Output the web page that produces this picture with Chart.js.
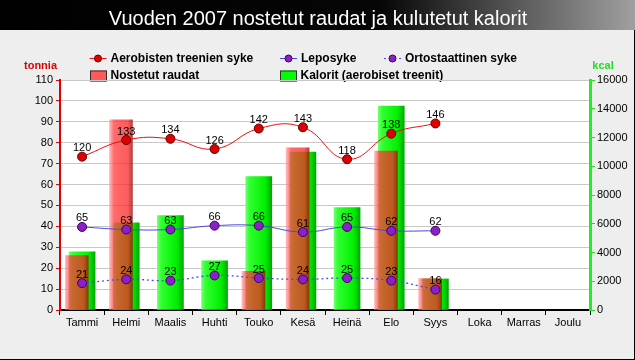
<!DOCTYPE html>
<html><head><meta charset="utf-8">
<script src="https://cdn.jsdelivr.net/npm/chart.js@4.4.1/dist/chart.umd.min.js"></script>
<style>html,body{margin:0;padding:0;background:#eeeeee}canvas{display:block}</style>
</head><body>
<canvas id="c" width="635" height="360" style="width:635px;height:360px"></canvas>
<script>
// ---- data ----
const categories = ['Tammi','Helmi','Maalis','Huhti','Touko','Kesä','Heinä','Elo','Syys','Loka','Marras','Joulu'];
const nostetutRaudat = [26, 91, 0, 0, 18.5, 77.5, 0, 76, 15, null, null, null];      // tonnia
const kalorit = [4050, 6070, 6560, 3420, 9280, 10980, 7120, 14190, 2160, null, null, null]; // kcal
const aerobinenSyke = [120, 133, 134, 126, 142, 143, 118, 138, 146, null, null, null];
const leposyke = [65, 63, 63, 66, 66, 61, 65, 62, 62, null, null, null];
const ortostaattinen = [21, 24, 23, 27, 25, 24, 25, 23, 16, null, null, null];
const tonniaAxis = {min: 0, max: 110, step: 10};
const kcalAxis = {min: 0, max: 16000, step: 2000};
const sykeAxis = {min: 0, max: 180};
const titleText = 'Vuoden 2007 nostetut raudat ja kulutetut kalorit';
const leftTitle = 'tonnia';
const rightTitle = 'kcal';

// ---- styles ----
const RED_SHIFT = -0.12;
const FONT = '"Liberation Sans", Arial, sans-serif';
Chart.defaults.font.family = FONT;
Chart.defaults.color = '#000';

function redFill(ctx) {
  const ch = ctx.chart;
  if (!ch.chartArea || !ch.scales.x2 || !ctx.raw) return 'rgba(255,40,40,0.75)';
  const cx = ch.scales.x2.getPixelForValue(ctx.raw.x);
  const g = ch.ctx.createLinearGradient(cx - 11.5, 0, cx + 11.5, 0);
  g.addColorStop(0, 'rgba(255,160,160,0.72)');
  g.addColorStop(0.2, 'rgba(255,50,50,0.72)');
  g.addColorStop(0.8, 'rgba(250,35,35,0.74)');
  g.addColorStop(1, 'rgba(160,15,15,0.8)');
  return g;
}
function greenFill(ctx) {
  const ch = ctx.chart;
  if (!ch.chartArea || !ch.scales.x) return '#20ff20';
  const cx = ch.scales.x.getPixelForValue(ctx.dataIndex);
  const g = ch.ctx.createLinearGradient(cx - 13, 0, cx + 13, 0);
  g.addColorStop(0, '#70ff70');
  g.addColorStop(0.15, '#30ff30');
  g.addColorStop(0.75, '#00f000');
  g.addColorStop(1, '#00a800');
  return g;
}

const decor = {
  id: 'decor',
  beforeDraw(chart) {
    const c = chart.ctx, W = chart.width, H = chart.height, a = chart.chartArea;
    c.save();
    c.fillStyle = '#eeeeee'; c.fillRect(0, 0, W, H);
    const g = c.createLinearGradient(0, 0, W, 0);
    g.addColorStop(0, '#000'); g.addColorStop(0.6, '#060606'); g.addColorStop(1, '#a0a0a0');
    c.fillStyle = g; c.fillRect(0, 0, W, 30);
    c.fillStyle = '#fff'; c.font = '20px ' + FONT; c.textAlign = 'center'; c.textBaseline = 'alphabetic';
    c.fillText(titleText, 318, 25);
    c.fillStyle = '#fff'; c.fillRect(a.left, a.top, a.right - a.left, a.bottom - a.top);
    // border
    c.fillStyle = '#000'; c.fillRect(0, H - 1, W, 1); c.fillRect(W - 1, 30, 1, H - 30);
    // axis titles
    c.font = 'bold 11px ' + FONT; c.textBaseline = 'middle';
    c.fillStyle = '#e00000'; c.fillText(leftTitle, 40.5, 66);
    c.fillStyle = '#22dd22'; c.fillText(rightTitle, 603, 66);
    // legend
    const ds = chart.data.datasets;
    c.font = 'bold 12px ' + FONT; c.textAlign = 'left'; c.fillStyle = '#000';
    const r1 = 58.5, r2 = 76;
    const lineItem = (x0, y, d) => {
      c.save();
      c.strokeStyle = d.borderColor; c.lineWidth = 1; c.setLineDash(d.borderDash || []);
      c.beginPath(); c.moveTo(x0, y); c.lineTo(x0 + 17, y); c.stroke();
      c.setLineDash([]);
      c.beginPath(); c.arc(x0 + 8.5, y, 3.5, 0, Math.PI * 2);
      c.fillStyle = d.pointBackgroundColor; c.fill();
      c.strokeStyle = d.pointBorderColor; c.stroke();
      c.restore();
      c.fillStyle = '#000'; c.fillText(d.label, x0 + 21, y);
    };
    const boxItem = (x0, y, d, col) => {
      c.fillStyle = col; c.fillRect(x0, y - 5.5, 17, 11);
      c.strokeStyle = '#303030'; c.lineWidth = 1; c.strokeRect(x0 + 0.5, y - 5, 16, 10);
      c.fillStyle = '#000'; c.fillText(d.label, x0 + 20.5, y);
    };
    lineItem(89.5, r1, ds[0]);
    lineItem(280, r1, ds[1]);
    lineItem(384, r1, ds[2]);
    boxItem(90, r2, ds[3], '#ff5a5a');
    boxItem(280, r2, ds[4], '#00ff00');
    c.restore();
  },
  afterDatasetsDraw(chart) {
    const c = chart.ctx;
    c.save();
    c.font = '11px ' + FONT; c.fillStyle = '#000'; c.textAlign = 'center'; c.textBaseline = 'alphabetic';
    for (let di = 0; di < 3; di++) {
      const meta = chart.getDatasetMeta(di);
      const data = chart.data.datasets[di].data;
      meta.data.forEach((pt, i) => {
        if (data[i] == null) return;
        c.fillText(String(data[i]), pt.x, pt.y - 5.5);
      });
    }
    c.restore();
  }
};

new Chart(document.getElementById('c'), {
  type: 'bar',
  data: {
    labels: categories,
    datasets: [
      {type: 'line', label: 'Aerobisten treenien syke', data: aerobinenSyke, yAxisID: 'yS', xAxisID: 'x',
       borderColor: '#e81010', borderWidth: 1, tension: 0.45, pointRadius: 4.5,
       pointBackgroundColor: '#e00000', pointBorderColor: '#600000', pointBorderWidth: 1, order: 0},
      {type: 'line', label: 'Leposyke', data: leposyke, yAxisID: 'yS', xAxisID: 'x',
       borderColor: '#4848e0', borderWidth: 1, tension: 0.45, pointRadius: 4.5,
       pointBackgroundColor: '#8a20c8', pointBorderColor: '#400060', pointBorderWidth: 1, order: 1},
      {type: 'line', label: 'Ortostaattinen syke', data: ortostaattinen, yAxisID: 'yS', xAxisID: 'x',
       borderColor: '#4848f0', borderWidth: 1.3, borderDash: [2, 3], tension: 0.45, pointRadius: 4.5,
       pointBackgroundColor: '#8a20c8', pointBorderColor: '#400060', pointBorderWidth: 1, order: 2},
      {type: 'bar', label: 'Nostetut raudat', data: nostetutRaudat.map((v, i) => ({x: i + RED_SHIFT, y: v})),
       yAxisID: 'y', xAxisID: 'x2', backgroundColor: redFill, borderWidth: 0, barThickness: 23, grouped: false, order: 3},
      {type: 'bar', label: 'Kalorit (aerobiset treenit)', data: kalorit, yAxisID: 'yK', xAxisID: 'x',
       backgroundColor: greenFill, borderWidth: 0, barThickness: 26, grouped: false, order: 4}
    ]
  },
  options: {
    responsive: false, animation: false,
    layout: {padding: {top: 80, left: 0, right: 0, bottom: 0}},
    plugins: {legend: {display: false}, tooltip: {enabled: false}, title: {display: false}},
    scales: {
      x: {type: 'category', offset: true, position: 'bottom',
          grid: {display: true, drawOnChartArea: false, drawTicks: true, tickLength: 5, tickColor: '#000', offset: true},
          border: {color: '#000', width: 2},
          ticks: {font: {size: 11}, color: '#000', padding: 1, maxRotation: 0, autoSkip: false},
          afterFit(s) { s.height = 50; }},
      x2: {type: 'linear', display: false, offset: false, min: -0.5, max: 11.5, grid: {display: false}},
      y: {type: 'linear', position: 'left', min: tonniaAxis.min, max: tonniaAxis.max,
          ticks: {stepSize: tonniaAxis.step, font: {size: 11}, color: '#000', padding: 3},
          grid: {color: '#c8c8c8', tickColor: '#e00000', tickLength: 4},
          border: {color: '#e00000', width: 2},
          afterFit(s) { s.width = 60; }},
      yK: {type: 'linear', position: 'right', min: kcalAxis.min, max: kcalAxis.max,
           ticks: {stepSize: kcalAxis.step, font: {size: 11}, color: '#000', padding: 2,
                   callback: (v) => String(v)},
           grid: {drawOnChartArea: false, tickColor: '#22dd22', tickLength: 5},
           border: {color: '#22ee22', width: 3},
           afterFit(s) { s.width = 45; }},
      yS: {type: 'linear', display: false, min: sykeAxis.min, max: sykeAxis.max, position: 'left'}
    }
  },
  plugins: [decor]
});
</script>
</body></html>
